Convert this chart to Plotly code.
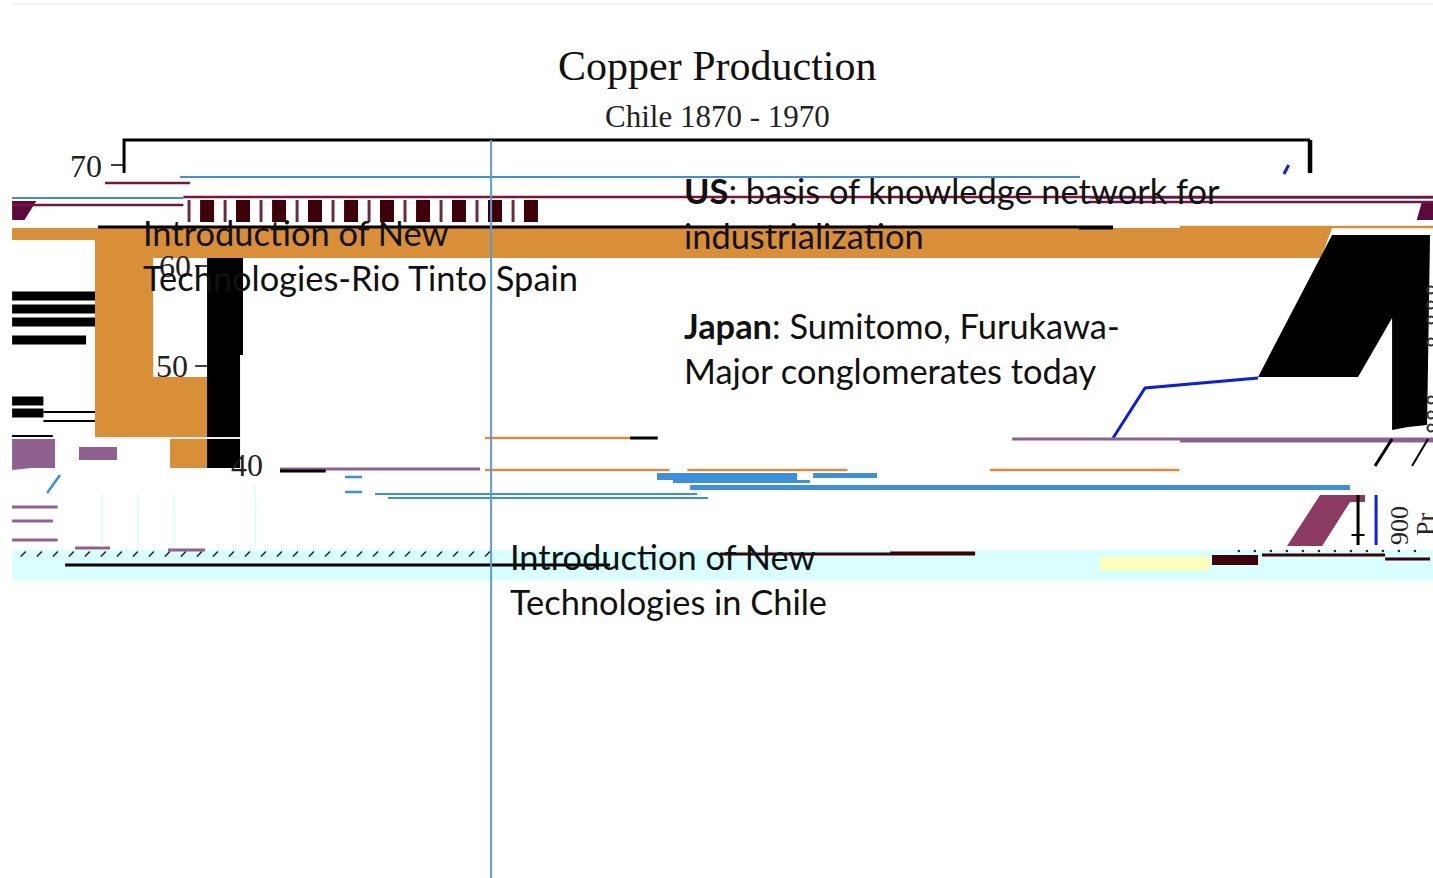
import plotly.graph_objects as go

# ---- fixed chart scale: years across, output down ----
x_range = [1859.54, 1980.37]
y_range = [-1.3, 86.5]

# frame and ticks
frame_x = [1870, 1870, 1970]
frame_y = [69.2, 72.5, 72.5]
frame_right_x = [1970, 1970]
frame_right_y = [72.5, 69.2]
tick_x = [1868.9, 1870, None, 1875.99, 1877, None, 1875.99, 1877.08]
tick_y = [70, 70, None, 59.9, 59.9, None, 49.9, 49.9]
axis_labels = ["70", "60", "50", "40"]
axis_label_x = [1866.8, 1874.3, 1874.05, 1880.37]
axis_label_y = [69.9, 59.9, 49.9, 40.0]

# main coloured regions
orange_x = [1860.56, 1971.86, 1970.93, 1872.45, 1872.45, 1877.08, 1877.08, 1873.88, 1873.88, 1867.55, 1867.55, 1860.56]
orange_y = [63.7, 63.7, 60.7, 60.7, 48.8, 48.8, 39.7, 39.7, 42.7, 42.7, 62.5, 62.5]
black_left_x = [1877.0, 1880.03, 1880.03, 1879.78, 1879.78, 1877.0]
black_left_y = [60.7, 60.7, 51.0, 51.0, 39.7, 39.7]
black_right_x = [1965.62, 1971.86, 1980.12, 1979.87, 1978.26, 1976.92, 1976.92, 1974.05]
black_right_y = [48.8, 63.0, 63.0, 44.0, 43.8, 43.5, 54.7, 48.8]
cyan_x = [1860.56, 1980.37, 1980.37, 1860.56]
cyan_y = [31.5, 31.5, 28.5, 28.5]
yellow_x = [1952.3, 1961.57, 1961.57, 1952.3]
yellow_y = [30.8, 30.8, 29.5, 29.5]
purple_x = [1968.06, 1970.85, 1974.64, 1974.64, 1973.38, 1971.02]
purple_y = [31.9, 37.0, 37.0, 36.3, 36.3, 31.9]
purple_left_x = [1860.56, 1864.18, 1864.18, 1862.2, 1860.56]
purple_left_y = [42.6, 42.6, 39.7, 39.7, 39.5]
purple_left2_x = [1866.2, 1869.4, 1869.4, 1866.2]
purple_left2_y = [41.8, 41.8, 40.5, 40.5]
wedge_left_x = [1860.56, 1862.6, 1861.6, 1860.56]
wedge_left_y = [66.4, 66.4, 64.5, 64.5]
wedge_right_x = [1979.45, 1980.37, 1980.37, 1979.0]
wedge_right_y = [66.4, 66.4, 64.5, 64.5]

# repeated dark bars in the top strip
bar_years = [1877.0, 1880.03, 1883.07, 1886.1, 1889.14, 1892.17, 1895.21, 1898.24, 1901.28, 1904.31]
bar_low = [64.3] * 10
bar_high = [2.2] * 10
thin_years = [1875.48, 1878.52, 1881.55, 1884.59, 1887.62, 1890.66, 1893.69, 1896.73, 1899.76, 1902.8]
thin_high = [2.2] * 10

# black stripes on the left
stripe_x = [1860.56, 1867.55, None, 1860.56, 1867.55, None, 1860.56, 1867.55, None, 1860.56, 1866.8, None,
            1860.56, 1863.2, None, 1860.56, 1863.2]
stripe_y = [56.9, 56.9, None, 55.6, 55.6, None, 54.3, 54.3, None, 52.5, 52.5, None,
            46.4, 46.4, None, 45.2, 45.2]
stripe_thin_x = [1863.2, 1867.55, None, 1863.2, 1867.55, None, 1860.56, 1864.0]
stripe_thin_y = [45.3, 45.3, None, 44.4, 44.4, None, 42.9, 42.9]

# line work
blue_x = [1874.72, 1950.61, None, 1860.56, 1875.0, None, 1951.45, 1980.37]
blue_y = [68.8, 68.8, None, 66.7, 66.7, None, 66.7, 66.7]
maroon_x = [1868.4, 1875.57, None, 1875.0, 1980.37, None, 1860.56, 1875.0, None, 1951.45, 1980.37]
maroon_y = [68.2, 68.2, None, 66.8, 66.8, None, 66.0, 66.0, None, 66.3, 66.3]
pure_blue_x = [1953.39, 1956.09, 1965.62, None, 1967.8, 1968.2, None, 1975.57, 1975.57]
pure_blue_y = [42.7, 47.7, 48.7, None, 69.1, 70.0, None, 37.0, 32.0]
rule_x = [1900.95, 1900.95]
rule_y = [72.5, -1.3]
top_rule_x = [1860.56, 1980.37]
top_rule_y = [86.1, 86.1]
white_x = [1867.55, 1879.78]
white_y = [42.7, 42.7]
purple_line_x = [1944.88, 1980.37, None, 1959.04, 1980.37, None, 1883.15, 1900.02, None, 1860.56, 1864.4,
                 None, 1860.56, 1864.0, None, 1860.56, 1864.4, None, 1865.87, 1868.82, None, 1873.71, 1876.83]
purple_line_y = [42.6, 42.6, None, 42.4, 42.4, None, 39.6, 39.6, None, 35.8, 35.8,
                 None, 34.4, 34.4, None, 32.5, 32.5, None, 31.7, 31.7, None, 31.5, 31.5]
orange_line_x = [1900.44, 1912.67, None, 1900.44, 1916.0, None, 1917.5, 1931.0, None, 1943.0, 1959.0, None, 1959.04, 1980.37]
orange_line_y = [42.7, 42.7, None, 39.5, 39.5, None, 39.5, 39.5, None, 39.5, 39.5, None, 63.8, 63.8]
black_line_x = [1865.03, 1910.98, None, 1867.8, 1953.39, None, 1950.5, 1953.39, None, 1912.67, 1915.0, None,
                1975.48, 1976.92, None, 1883.15, 1887.0, None, 1974.05, 1974.05]
black_line_y = [30.0, 30.0, None, 63.8, 63.8, None, 63.7, 63.7, None, 42.7, 42.7,
                None, 39.9, 42.6, None, 39.4, 39.4, None, 37.0, 32.0]
thin_black_x = [1978.6, 1979.95, None, 1973.5, 1974.6]
thin_black_y = [39.9, 42.6, None, 33.0, 33.0]
thin_blue_x = [1891.16, 1918.32, None, 1892.26, 1919.24]
thin_blue_y = [37.1, 37.1, None, 36.7, 36.7]
mid_blue_x = [1863.51, 1864.6, None, 1888.63, 1890.07, None, 1888.63, 1890.07]
mid_blue_y = [37.2, 39.0, None, 38.8, 38.8, None, 37.3, 37.3]
cyan_rib_x = [1868.14, 1868.14, None, 1871.18, 1871.18, None, 1874.22, 1874.22, None, 1881.05, 1881.05]
cyan_rib_y = [37.0, 31.8, None, 37.0, 31.8, None, 37.0, 31.8, None, 38.0, 31.8]
dark_line_x = [1920.25, 1941.76, None, 1934.59, 1941.76, None, 1965.95, 1976.33, None, 1976.33, 1980.12]
dark_line_y = [31.1, 31.1, None, 31.2, 31.2, None, 31.0, 31.0, None, 30.6, 30.6]
dark_block_x = [1961.74, 1965.62, 1965.62, 1961.74]
dark_block_y = [31.0, 31.0, 30.0, 30.0]

# wide blue bars
wide_blue_x = [1914.94, 1926.75, 1926.75, 1914.94, None,
               1916.29, 1927.84, 1927.84, 1916.29, None,
               1917.73, 1973.38, 1973.38, 1917.73, None,
               1928.1, 1933.49, 1933.49, 1928.1]
wide_blue_y = [39.2, 39.2, 38.5, 38.5, None,
               38.5, 38.5, 38.2, 38.2, None,
               38.0, 38.0, 37.5, 37.5, None,
               39.2, 39.2, 38.7, 38.7]

# dotted ticks along the cyan band
slash_x = [1861.5, 1862.85, 1864.2, 1865.55, 1866.9, 1868.25, 1869.6, 1870.95, 1872.3, 1873.65, 1875.0,
           1876.35, 1877.7, 1879.05, 1880.4, 1881.75, 1883.1, 1884.45, 1885.8, 1887.15, 1888.5, 1889.85,
           1891.2, 1892.55, 1893.9, 1895.25, 1896.6, 1897.95, 1899.3, 1900.65]
slash_y = [31.1] * 30
dot_x = [1964.0, 1965.35, 1966.7, 1968.05, 1969.4, 1970.75, 1972.1, 1973.45, 1974.8, 1976.15, 1977.5, 1978.85]
dot_y = [31.4] * 12
ring_x = [1980.2] * 7
ring_y = [57.5, 56.0, 54.5, 52.3, 46.5, 45.0, 43.7]

# text
title_text = "Copper Production"
subtitle_text = "Chile 1870 - 1970"
title_x = 1920.0
notes = ["Introduction of New", "Technologies-Rio Tinto Spain",
         "<b>US</b>: basis of knowledge network for", "industrialization",
         "<b>Japan</b>: Sumitomo, Furukawa-", "Major conglomerates today",
         "Introduction of New", "Technologies in Chile"]
note_x = [1871.45, 1871.45, 1917.05, 1917.05, 1917.05, 1917.05, 1902.35, 1902.35]
note_y = [63.3, 58.8, 67.5, 63.0, 54.0, 49.5, 30.9, 26.4]
rot_labels = ["900", "Pr"]
rot_x = [1977.5, 1979.7]
rot_y = [34.0, 34.0]

fig = go.Figure()


def fill(xs, ys, color):
    fig.add_trace(go.Scatter(x=xs, y=ys, mode="lines", fill="toself", fillcolor=color,
                             line=dict(width=0, color=color), hoverinfo="skip"))


def line(xs, ys, color, width):
    fig.add_trace(go.Scatter(x=xs, y=ys, mode="lines", line=dict(color=color, width=width), hoverinfo="skip"))


line(top_rule_x, top_rule_y, "#eeeeee", 1.5)
fill(cyan_x, cyan_y, "#d9ffff")
fill(yellow_x, yellow_y, "#ffffb8")
fill(orange_x, orange_y, "#d98f38")
fill(black_left_x, black_left_y, "#000000")
fill(black_right_x, black_right_y, "#000000")
fill(purple_x, purple_y, "#8b3a62")
fill(purple_left_x, purple_left_y, "#8f6090")
fill(purple_left2_x, purple_left2_y, "#8f6090")
fill(wedge_left_x, wedge_left_y, "#5c0a3c")
fill(wedge_right_x, wedge_right_y, "#5c0a3c")
fill(wide_blue_x, wide_blue_y, "#3c8fdd")
fill(dark_block_x, dark_block_y, "#3d0008")
fig.add_trace(go.Bar(x=bar_years, y=bar_high, base=bar_low, width=1.18, marker=dict(color="#3d0008", line_width=0), hoverinfo="skip"))
fig.add_trace(go.Bar(x=thin_years, y=thin_high, base=bar_low, width=0.25, marker=dict(color="#6b2a3a", line_width=0), hoverinfo="skip"))

line(frame_x, frame_y, "#000000", 3)
line(frame_right_x, frame_right_y, "#000000", 4.5)
line(tick_x, tick_y, "#000000", 1.5)
line(stripe_x, stripe_y, "#000000", 9)
line(stripe_thin_x, stripe_thin_y, "#000000", 2)
line(blue_x, blue_y, "#3c8fdd", 2)
line(maroon_x, maroon_y, "#7a1438", 2.5)
line(pure_blue_x, pure_blue_y, "#0a1fe0", 3)
line(purple_line_x, purple_line_y, "#8f6090", 3)
line(orange_line_x, orange_line_y, "#d98f38", 2.5)
line(black_line_x, black_line_y, "#000000", 3)
line(thin_black_x, thin_black_y, "#000000", 2)
line(thin_blue_x, thin_blue_y, "#3c8fdd", 2)
line(mid_blue_x, mid_blue_y, "#3c8fdd", 2.5)
line(cyan_rib_x, cyan_rib_y, "#ccffff", 1.5)
line(dark_line_x, dark_line_y, "#3d0008", 3)
line(white_x, white_y, "#eeeeee", 2)
line(rule_x, rule_y, "#5b9bd5", 2)
fig.add_trace(go.Scatter(x=slash_x, y=slash_y, mode="markers",
                         marker=dict(symbol="line-ne", size=5, line=dict(width=1.5, color="#222222")), hoverinfo="skip"))
fig.add_trace(go.Scatter(x=dot_x, y=dot_y, mode="markers",
                         marker=dict(size=2.5, color="#222222"), hoverinfo="skip"))
fig.add_trace(go.Scatter(x=ring_x, y=ring_y, mode="markers",
                         marker=dict(symbol="circle-open", size=7, color="#333333", line=dict(width=2, color="#333333")), hoverinfo="skip"))

for t, xv, yv in zip(axis_labels, axis_label_x, axis_label_y):
    fig.add_annotation(x=xv, y=yv, text=t, showarrow=False,
                       font=dict(family="Liberation Serif", size=32, color="#222222"))
for t, xv, yv in zip(rot_labels, rot_x, rot_y):
    fig.add_annotation(x=xv, y=yv, text=t, showarrow=False, textangle=-90,
                       font=dict(family="Liberation Serif", size=26, color="#222222"))
fig.add_annotation(x=title_x, y=79.9, text=title_text, showarrow=False,
                   font=dict(family="Liberation Serif", size=42, color="#111111"))
fig.add_annotation(x=title_x, y=74.9, text=subtitle_text, showarrow=False,
                   font=dict(family="Liberation Serif", size=31, color="#222222"))
for t, xv, yv in zip(notes, note_x, note_y):
    fig.add_annotation(x=xv, y=yv, text=t, showarrow=False, xanchor="left",
                       font=dict(family="Lato", size=34.4, color="#111111"))

fig.update_layout(
    width=1433, height=878, margin=dict(l=0, r=0, t=0, b=0),
    paper_bgcolor="#ffffff", plot_bgcolor="#ffffff", showlegend=False, barmode="overlay",
    xaxis=dict(range=x_range, visible=False, fixedrange=True),
    yaxis=dict(range=y_range, visible=False, fixedrange=True),
)
fig.write_html("out.html", config=dict(displayModeBar=False),
               post_script="document.body.style.margin='0';document.documentElement.style.overflow='hidden';")
